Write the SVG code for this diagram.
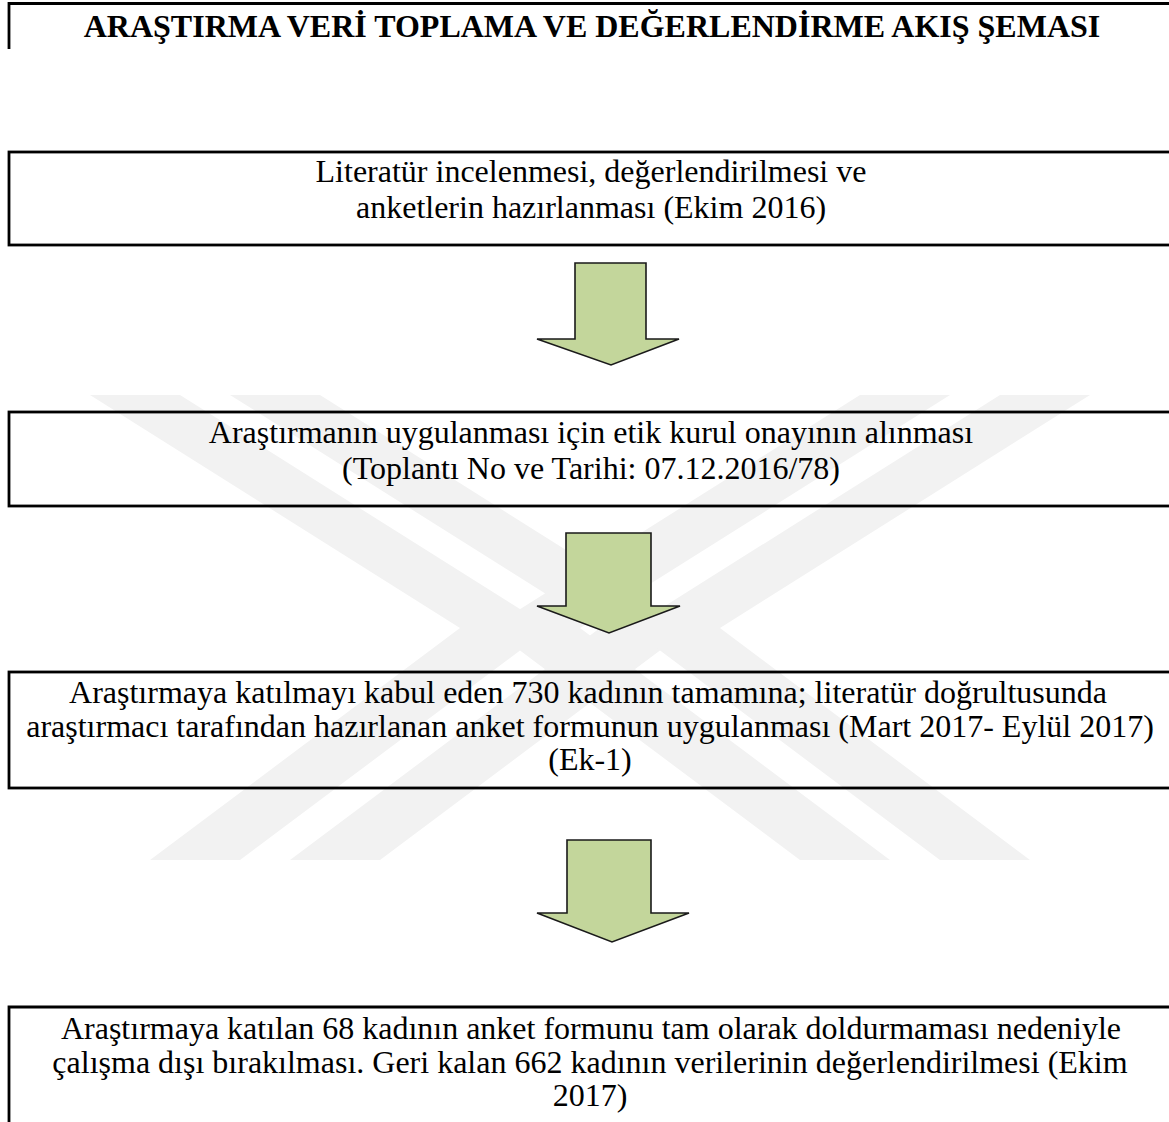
<svg xmlns="http://www.w3.org/2000/svg" width="1169" height="1122" viewBox="0 0 1169 1122">
<style>
.box{fill:none;stroke:#000;stroke-width:2.8}
.t{font-family:"Liberation Serif","Times New Roman",serif;font-size:32px;fill:#000;text-anchor:middle}
.title{font-weight:bold}
.arr{fill:#c3d69b;stroke:#1a1a1a;stroke-width:1.6;stroke-linejoin:miter}
.wm{fill:#f2f2f2}
</style>
<rect width="1169" height="1122" fill="#fff"/>
<g id="watermark">
<polygon class="wm" points="90,395 180,395 550,628 240,860 150,860 460,628"/>
<polygon class="wm" points="230,395 320,395 690,628 380,860 290,860 600,628"/>
<polygon class="wm" points="1090,395 1000,395 630,628 940,860 1030,860 720,628"/>
<polygon class="wm" points="950,395 860,395 490,628 800,860 890,860 580,628"/>
</g>
<g id="title">
<path class="box" d="M1172,3.5 H9 V49"/>
<text class="t title" x="592" y="37">ARAŞTIRMA VERİ TOPLAMA VE DEĞERLENDİRME AKIŞ ŞEMASI</text>
</g>
<g id="step1">
<rect class="box" x="9" y="152" width="1170" height="93"/>
<text class="t" x="591" y="182">Literatür incelenmesi, değerlendirilmesi ve</text>
<text class="t" x="591" y="218">anketlerin hazırlanması (Ekim 2016)</text>
</g>
<g id="step2">
<rect class="box" x="9" y="412" width="1170" height="94"/>
<text class="t" x="591" y="443">Araştırmanın uygulanması için etik kurul onayının alınması</text>
<text class="t" x="591" y="479">(Toplantı No ve Tarihi: 07.12.2016/78)</text>
</g>
<g id="step3">
<rect class="box" x="9" y="672" width="1170" height="116"/>
<text class="t" x="588" y="703">Araştırmaya katılmayı kabul eden 730 kadının tamamına; literatür doğrultusunda</text>
<text class="t" x="590" y="737">araştırmacı tarafından hazırlanan anket formunun uygulanması (Mart 2017- Eylül 2017)</text>
<text class="t" x="590" y="770">(Ek-1)</text>
</g>
<g id="step4">
<path class="box" d="M1172,1007 H9 V1125"/>
<text class="t" x="591" y="1039">Araştırmaya katılan 68 kadının anket formunu tam olarak doldurmaması nedeniyle</text>
<text class="t" x="590" y="1073">çalışma dışı bırakılması. Geri kalan 662 kadının verilerinin değerlendirilmesi (Ekim</text>
<text class="t" x="590" y="1106">2017)</text>
</g>
<g id="connectors">
<polygon class="arr" points="575,263 646,263 646,339 679,339 611,365 537,339 575,339"/>
<polygon class="arr" points="566,533 651,533 651,606 680,606 609,633 537,606 566,606"/>
<polygon class="arr" points="567,840 651,840 651,913 689,913 612,942 537,913 567,913"/>
</g>
</svg>
